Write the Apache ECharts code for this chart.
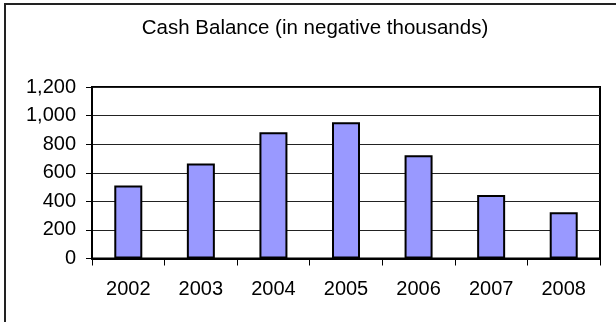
<!DOCTYPE html>
<html>
<head>
<meta charset="utf-8">
<script src="https://cdn.jsdelivr.net/npm/echarts@6/dist/echarts.min.js"></script>
<style>html,body{margin:0;padding:0;background:#fff;}#c{width:616px;height:322px;}</style>
</head>
<body>
<div id="c"></div>
<script>
const titleText = "Cash Balance (in negative thousands)";
const categories = ["2002", "2003", "2004", "2005", "2006", "2007", "2008"];
const cashBalance = [510, 665, 884, 954, 722, 444, 324];
const yMin = 0, yMax = 1200, yStep = 200;

const chart = echarts.init(document.getElementById('c'), null, {renderer: 'canvas'});
const font = '"Liberation Sans", Arial, sans-serif';
chart.setOption({
  animation: false,
  backgroundColor: '#fff',
  title: {
    text: titleText,
    left: 310, top: 13, textAlign: 'center',
    textStyle: {fontFamily: font, fontSize: 20.5, fontWeight: 'normal', color: '#000'}
  },
  graphic: [{
    type: 'rect', silent: true,
    shape: {x: 5, y: 4, width: 700, height: 400},
    style: {fill: 'none', stroke: '#222', lineWidth: 2}
  }],
  grid: {
    left: 92, right: 16, top: 87, bottom: 63.5,
    show: true, borderColor: '#000', borderWidth: 2, backgroundColor: 'transparent'
  },
  xAxis: {
    type: 'category', data: categories,
    axisLine: {show: true, lineStyle: {color: '#000', width: 2}},
    axisTick: {show: true, alignWithLabel: false, length: 7, lineStyle: {color: '#000', width: 1}},
    axisLabel: {fontFamily: font, fontSize: 20, color: '#000', margin: 21}
  },
  yAxis: {
    type: 'value', min: yMin, max: yMax, interval: yStep,
    axisLine: {show: true, lineStyle: {color: '#000', width: 2}},
    axisTick: {show: true, length: 6, lineStyle: {color: '#000', width: 1}},
    axisLabel: {fontFamily: font, fontSize: 20, color: '#000', margin: 16,
      formatter: v => v.toLocaleString('en-US')},
    splitLine: {show: true, lineStyle: {color: '#222', width: 1}}
  },
  series: [{
    type: 'bar', data: cashBalance, barWidth: 28,
    itemStyle: {color: '#9999FF', borderColor: '#000', borderWidth: 2}
  }]
});
</script>
</body>
</html>
